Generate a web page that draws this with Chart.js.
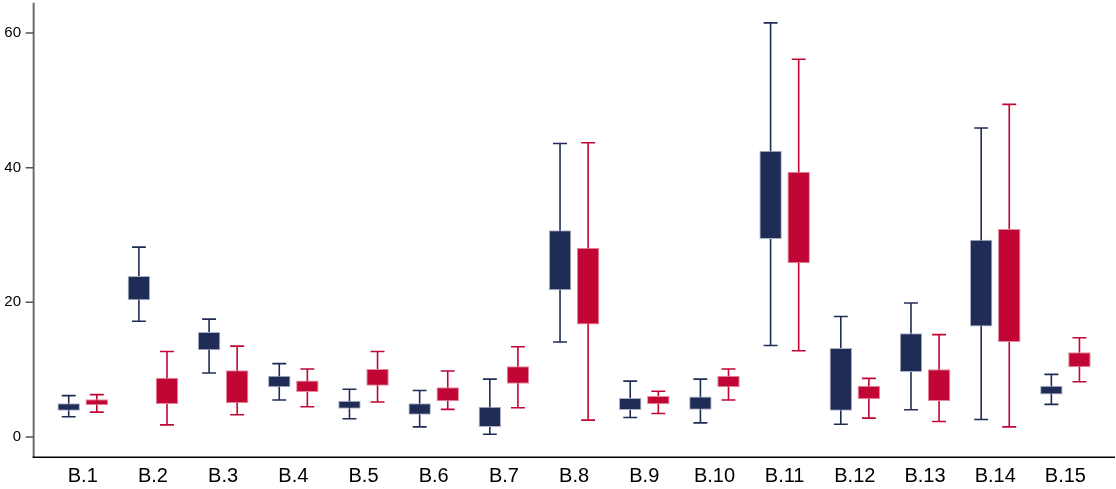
<!DOCTYPE html>
<html><head><meta charset="utf-8">
<script src="https://cdn.jsdelivr.net/npm/chart.js@4.4.1/dist/chart.umd.min.js"></script>
<style>html,body{margin:0;padding:0;background:#fff;}#wrap{width:1116px;height:489px;position:relative;}</style>
</head><body><div id="wrap"><canvas id="c" width="1116" height="489"></canvas></div>
<script>
const categories = ['B.1','B.2','B.3','B.4','B.5','B.6','B.7','B.8','B.9','B.10','B.11','B.12','B.13','B.14','B.15'];
const navyMin = [3.0, 17.2, 9.5, 5.5, 2.7, 1.5, 0.4, 14.1, 2.9, 2.1, 13.6, 1.9, 4.05, 2.6, 4.85];
const navyQ1  = [3.9, 20.3, 12.9, 7.4, 4.2, 3.3, 1.5, 21.8, 4.0, 4.05, 29.4, 3.9, 9.65, 16.4, 6.3];
const navyQ3  = [5.0, 23.9, 15.6, 9.1, 5.4, 5.0, 4.5, 30.7, 5.8, 6.0, 42.5, 13.2, 15.4, 29.3, 7.6];
const navyMax = [6.15, 28.2, 17.5, 10.9, 7.1, 6.9, 8.6, 43.6, 8.3, 8.6, 61.5, 17.9, 19.9, 45.9, 9.3];
const redMin  = [3.7, 1.8, 3.3, 4.5, 5.2, 4.1, 4.35, 2.5, 3.5, 5.5, 12.8, 2.8, 2.3, 1.5, 8.2];
const redQ1   = [4.7, 4.9, 5.0, 6.7, 7.6, 5.3, 7.9, 16.7, 4.85, 7.4, 25.8, 5.6, 5.35, 14.1, 10.35];
const redQ3   = [5.6, 8.8, 9.9, 8.4, 10.1, 7.4, 10.5, 28.1, 6.1, 9.1, 39.4, 7.6, 10.05, 30.9, 12.6];
const redMax  = [6.3, 12.7, 13.5, 10.1, 12.7, 9.8, 13.4, 43.7, 6.8, 10.1, 56.1, 8.7, 15.2, 49.4, 14.75];
const yTicks = [0, 20, 40, 60];

const NAVY = '#1f2d56';
const RED = '#c10534';
const FONT = "'Liberation Sans', Arial, Helvetica, sans-serif";

const whiskerPlugin = {
  id: 'whiskers',
  beforeDatasetsDraw(chart) {
    const ctx = chart.ctx;
    const ys = chart.scales.y;
    const series = [
      {min: navyMin, max: navyMax, color: NAVY},
      {min: redMin, max: redMax, color: RED}
    ];
    series.forEach((s, di) => {
      const meta = chart.getDatasetMeta(di);
      meta.data.forEach((bar, i) => {
        const x = bar.x;
        const y0 = ys.getPixelForValue(s.min[i]);
        const y1 = ys.getPixelForValue(s.max[i]);
        const half = bar.width * 0.31;
        ctx.save();
        ctx.strokeStyle = s.color;
        ctx.lineWidth = 1.6;
        ctx.beginPath();
        ctx.moveTo(x, y1); ctx.lineTo(x, y0);
        ctx.moveTo(x - half, y1); ctx.lineTo(x + half, y1);
        ctx.moveTo(x - half, y0); ctx.lineTo(x + half, y0);
        ctx.stroke();
        ctx.restore();
      });
    });
  }
};

const axesPlugin = {
  id: 'axesLines',
  afterDraw(chart) {
    const ctx = chart.ctx;
    const a = chart.chartArea;
    const ys = chart.scales.y;
    const axisX = a.left - 14;
    ctx.save();
    ctx.strokeStyle = '#6b6b6b';
    ctx.lineWidth = 2;
    ctx.beginPath();
    ctx.moveTo(axisX, a.top); ctx.lineTo(axisX, a.bottom);
    ctx.stroke();
    ctx.lineWidth = 1.5;
    ctx.strokeStyle = '#555';
    ctx.beginPath();
    yTicks.forEach(v => {
      const p = ys.getPixelForValue(v);
      ctx.moveTo(axisX - 8, p); ctx.lineTo(axisX, p);
    });
    ctx.stroke();
    ctx.strokeStyle = '#000';
    ctx.lineWidth = 1.5;
    ctx.beginPath();
    ctx.moveTo(axisX - 1, a.bottom); ctx.lineTo(a.right + 14.5, a.bottom);
    ctx.stroke();
    ctx.restore();
  }
};

new Chart(document.getElementById('c'), {
  type: 'bar',
  data: {
    labels: categories,
    datasets: [
      {data: categories.map((_, i) => [navyQ1[i], navyQ3[i]]), backgroundColor: NAVY, borderColor: '#aeb4c8', borderWidth: 1, borderSkipped: false, categoryPercentage: 0.8, barPercentage: 0.8},
      {data: categories.map((_, i) => [redQ1[i], redQ3[i]]), backgroundColor: RED, borderColor: '#e48a9f', borderWidth: 1, borderSkipped: false, categoryPercentage: 0.8, barPercentage: 0.8}
    ]
  },
  options: {
    responsive: false,
    animation: false,
    devicePixelRatio: 1,
    layout: {padding: {left: 0, right: 15.5, top: 2.7, bottom: 0}},
    plugins: {legend: {display: false}, tooltip: {enabled: false}},
    scales: {
      x: {
        type: 'category', offset: true,
        grid: {display: false, drawTicks: false}, border: {display: false},
        ticks: {font: {family: FONT, size: 20}, color: '#000', padding: 7.3, maxRotation: 0, autoSkip: false},
        afterFit(s) { s.height = 31.8; s.paddingLeft = 0; s.paddingRight = 0; }
      },
      y: {
        min: -3, max: 64.5,
        grid: {display: false, drawTicks: false}, border: {display: false},
        afterBuildTicks(s) { s.ticks = yTicks.map(v => ({value: v})); },
        ticks: {font: {family: FONT, size: 15}, color: '#000', padding: 26.6},
        afterFit(s) { s.width = 47.65; s.paddingTop = 0; s.paddingBottom = 0; }
      }
    }
  },
  plugins: [whiskerPlugin, axesPlugin]
});
</script>
</body></html>
